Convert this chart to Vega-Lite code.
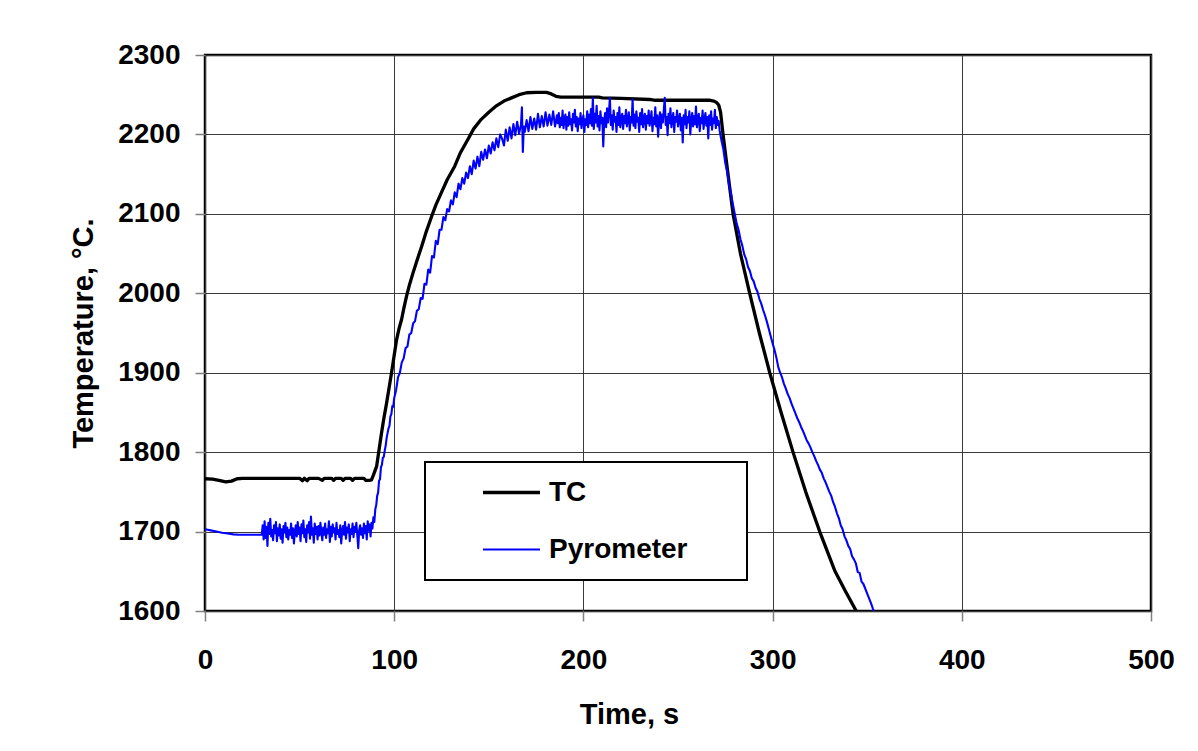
{
"$schema": "https://vega.github.io/schema/vega-lite/v6.json",
"width": 946, "height": 556,
"autosize": {"type": "none"},
"padding": {"left": 205, "top": 55, "right": 47, "bottom": 140},
"background": "white",
"config": {
  "font": "Liberation Sans",
  "view": {"stroke": "#000000", "strokeWidth": 2.5},
  "axis": {"grid": true, "gridColor": "#3a3a3a", "gridWidth": 1, "domain": false, "tickColor": "#808080", "tickSize": 10, "tickWidth": 1.5, "labelFont": "Liberation Sans", "labelFontSize": 28, "labelFontWeight": "bold", "labelColor": "#000000", "labelFlush": false, "labelOverlap": false, "titleFont": "Liberation Sans", "titleFontSize": 29, "titleFontWeight": "bold", "titleColor": "#000000"},
  "legend": {"strokeWidth": 2}
},
"layer": [
{
 "data": {"values": [
{"t":0,"v":1766.5,"s":"TC"},{"t":4,"v":1766,"s":"TC"},{"t":8,"v":1764,"s":"TC"},{"t":11,"v":1762.5,"s":"TC"},{"t":14,"v":1763.5,"s":"TC"},{"t":17,"v":1766.5,"s":"TC"},{"t":20,"v":1767,"s":"TC"},{"t":30,"v":1767,"s":"TC"},{"t":40,"v":1767,"s":"TC"},{"t":50,"v":1767,"s":"TC"},{"t":51.5,"v":1764,"s":"TC"},{"t":52.5,"v":1767,"s":"TC"},{"t":54,"v":1764,"s":"TC"},{"t":55,"v":1767,"s":"TC"},{"t":60,"v":1767,"s":"TC"},{"t":62,"v":1764.5,"s":"TC"},{"t":63,"v":1767,"s":"TC"},{"t":67,"v":1767,"s":"TC"},{"t":68,"v":1764.5,"s":"TC"},{"t":69,"v":1767,"s":"TC"},{"t":72,"v":1767,"s":"TC"},{"t":73,"v":1764.5,"s":"TC"},{"t":74,"v":1767,"s":"TC"},{"t":77,"v":1767,"s":"TC"},{"t":78,"v":1764.5,"s":"TC"},{"t":79,"v":1767,"s":"TC"},{"t":84,"v":1767,"s":"TC"},{"t":85,"v":1764.5,"s":"TC"},{"t":87,"v":1764.5,"s":"TC"},{"t":88,"v":1765,"s":"TC"},{"t":89,"v":1771,"s":"TC"},{"t":90.7,"v":1782,"s":"TC"},{"t":92,"v":1803,"s":"TC"},{"t":93.3,"v":1824,"s":"TC"},{"t":94.5,"v":1842,"s":"TC"},{"t":96,"v":1862,"s":"TC"},{"t":97.3,"v":1881,"s":"TC"},{"t":98.6,"v":1900,"s":"TC"},{"t":100,"v":1922,"s":"TC"},{"t":101.3,"v":1942,"s":"TC"},{"t":102.5,"v":1955,"s":"TC"},{"t":103.9,"v":1967,"s":"TC"},{"t":105,"v":1980,"s":"TC"},{"t":106.5,"v":1996,"s":"TC"},{"t":108,"v":2010,"s":"TC"},{"t":110,"v":2026,"s":"TC"},{"t":112,"v":2041,"s":"TC"},{"t":114.5,"v":2059,"s":"TC"},{"t":117,"v":2078,"s":"TC"},{"t":119.8,"v":2097,"s":"TC"},{"t":122,"v":2111,"s":"TC"},{"t":125,"v":2127,"s":"TC"},{"t":128,"v":2143,"s":"TC"},{"t":132,"v":2160,"s":"TC"},{"t":135,"v":2177,"s":"TC"},{"t":139,"v":2194,"s":"TC"},{"t":142,"v":2207,"s":"TC"},{"t":146,"v":2219,"s":"TC"},{"t":150,"v":2228,"s":"TC"},{"t":154,"v":2236,"s":"TC"},{"t":158,"v":2242,"s":"TC"},{"t":162,"v":2246,"s":"TC"},{"t":166,"v":2250,"s":"TC"},{"t":170,"v":2252.5,"s":"TC"},{"t":175,"v":2253,"s":"TC"},{"t":180.5,"v":2253,"s":"TC"},{"t":183,"v":2251,"s":"TC"},{"t":185.5,"v":2248,"s":"TC"},{"t":188,"v":2247,"s":"TC"},{"t":208,"v":2247,"s":"TC"},{"t":210,"v":2246,"s":"TC"},{"t":220,"v":2245.5,"s":"TC"},{"t":235,"v":2244,"s":"TC"},{"t":238,"v":2243,"s":"TC"},{"t":267,"v":2243,"s":"TC"},{"t":269,"v":2242,"s":"TC"},{"t":270.5,"v":2240,"s":"TC"},{"t":271.5,"v":2237,"s":"TC"},{"t":272.5,"v":2228,"s":"TC"},{"t":273.8,"v":2200,"s":"TC"},{"t":276,"v":2158,"s":"TC"},{"t":279.1,"v":2100,"s":"TC"},{"t":283,"v":2050,"s":"TC"},{"t":287.9,"v":2000,"s":"TC"},{"t":293,"v":1950,"s":"TC"},{"t":298.5,"v":1900,"s":"TC"},{"t":304.5,"v":1850,"s":"TC"},{"t":310.8,"v":1800,"s":"TC"},{"t":317.5,"v":1750,"s":"TC"},{"t":324.9,"v":1700,"s":"TC"},{"t":333,"v":1650,"s":"TC"},{"t":338.5,"v":1625,"s":"TC"},{"t":344.2,"v":1600,"s":"TC"}
 ]},
 "mark": {"type": "line", "clip": true, "strokeJoin": "round"},
 "encoding": {
  "x": {"field": "t", "type": "quantitative", "scale": {"domain": [0, 500], "nice": false, "zero": false}, "axis": {"values": [0,100,200,300,400,500], "format": "d", "title": "Time, s", "labelPadding": 25, "titleX": 424, "titleY": 112, "titleBaseline": "alphabetic", "titleAlign": "center", "titleAnchor": null}},
  "y": {"field": "v", "type": "quantitative", "scale": {"domain": [1600, 2300], "nice": false, "zero": false}, "axis": {"values": [1600,1700,1800,1900,2000,2100,2200,2300], "format": "d", "title": "Temperature, °C.", "labelPadding": 15, "titleX": -113, "titleY": 278, "titleBaseline": "alphabetic", "titleAlign": "center", "titleAngle": -90}},
  "color": {"field": "s", "type": "nominal", "scale": {"domain": ["TC", "Pyrometer"], "range": ["#000000", "#0000ff"]}, "legend": {"orient": "none", "legendX": 220, "legendY": 407, "title": "\u00a0", "titleOrient": "right", "titleAngle": 0, "titlePadding": 57, "titleFontSize": 28, "direction": "vertical", "symbolType": "stroke", "symbolSize": 3249, "symbolOffset": 54, "labelOffset": 7, "labelLimit": 500, "clipHeight": 57, "labelFont": "Liberation Sans", "labelFontSize": 28, "labelFontWeight": "bold", "labelColor": "#000000", "padding": 2, "rowPadding": 0, "strokeColor": "#000000", "fillColor": "#ffffff"}},
  "strokeWidth": {"field": "s", "type": "nominal", "scale": {"domain": ["TC", "Pyrometer"], "range": [3.3, 2.1]}, "legend": {"orient": "none", "legendX": 220, "legendY": 407, "title": "\u00a0", "titleOrient": "right", "titleAngle": 0, "titlePadding": 57, "titleFontSize": 28, "direction": "vertical", "symbolType": "stroke", "symbolSize": 3249, "symbolOffset": 54, "labelOffset": 7, "labelLimit": 500, "clipHeight": 57, "labelFont": "Liberation Sans", "labelFontSize": 28, "labelFontWeight": "bold", "labelColor": "#000000", "padding": 2, "rowPadding": 0, "strokeColor": "#000000", "fillColor": "#ffffff"}}
 }
},
{
 "data": {"values": [
{"t":0,"v":1703,"s":"Pyrometer"},{"t":3,"v":1701.5,"s":"Pyrometer"},{"t":6,"v":1700,"s":"Pyrometer"},{"t":9,"v":1698.5,"s":"Pyrometer"},{"t":12,"v":1697.5,"s":"Pyrometer"},{"t":15,"v":1696.5,"s":"Pyrometer"},{"t":18,"v":1696,"s":"Pyrometer"},{"t":24,"v":1696,"s":"Pyrometer"},{"t":30,"v":1696,"s":"Pyrometer"},
{"t":30.5,"v":1708,"s":"Pyrometer"},{"t":31,"v":1690,"s":"Pyrometer"},{"t":31.5,"v":1713,"s":"Pyrometer"},{"t":32,"v":1692,"s":"Pyrometer"},{"t":32.5,"v":1706,"s":"Pyrometer"},{"t":33,"v":1682,"s":"Pyrometer"},{"t":33.5,"v":1711,"s":"Pyrometer"},{"t":34,"v":1697,"s":"Pyrometer"},{"t":34.5,"v":1716,"s":"Pyrometer"},{"t":35,"v":1694,"s":"Pyrometer"},{"t":35.5,"v":1702,"s":"Pyrometer"},{"t":36,"v":1689,"s":"Pyrometer"},{"t":36.5,"v":1708,"s":"Pyrometer"},{"t":37,"v":1698,"s":"Pyrometer"},{"t":37.5,"v":1712,"s":"Pyrometer"},{"t":38,"v":1688,"s":"Pyrometer"},{"t":38.5,"v":1704,"s":"Pyrometer"},{"t":39,"v":1695,"s":"Pyrometer"},{"t":39.5,"v":1709,"s":"Pyrometer"},{"t":40,"v":1691,"s":"Pyrometer"},{"t":40.5,"v":1703,"s":"Pyrometer"},{"t":41,"v":1686,"s":"Pyrometer"},{"t":41.5,"v":1707,"s":"Pyrometer"},{"t":42,"v":1699,"s":"Pyrometer"},{"t":42.5,"v":1711,"s":"Pyrometer"},{"t":43,"v":1693,"s":"Pyrometer"},{"t":43.5,"v":1705,"s":"Pyrometer"},{"t":44,"v":1690,"s":"Pyrometer"},{"t":44.5,"v":1702,"s":"Pyrometer"},{"t":45,"v":1696,"s":"Pyrometer"},{"t":45.5,"v":1710,"s":"Pyrometer"},{"t":46,"v":1692,"s":"Pyrometer"},{"t":46.5,"v":1704,"s":"Pyrometer"},{"t":47,"v":1685,"s":"Pyrometer"},{"t":47.5,"v":1700,"s":"Pyrometer"},{"t":48,"v":1708,"s":"Pyrometer"},{"t":48.5,"v":1694,"s":"Pyrometer"},{"t":49,"v":1712,"s":"Pyrometer"},{"t":49.5,"v":1697,"s":"Pyrometer"},{"t":50,"v":1705,"s":"Pyrometer"},{"t":50.5,"v":1688,"s":"Pyrometer"},{"t":51,"v":1709,"s":"Pyrometer"},{"t":51.5,"v":1698,"s":"Pyrometer"},{"t":52,"v":1714,"s":"Pyrometer"},{"t":52.5,"v":1693,"s":"Pyrometer"},{"t":53,"v":1703,"s":"Pyrometer"},{"t":53.5,"v":1687,"s":"Pyrometer"},{"t":54,"v":1708,"s":"Pyrometer"},{"t":54.5,"v":1699,"s":"Pyrometer"},{"t":55,"v":1712,"s":"Pyrometer"},{"t":55.5,"v":1691,"s":"Pyrometer"},{"t":56,"v":1719,"s":"Pyrometer"},{"t":56.5,"v":1696,"s":"Pyrometer"},{"t":57,"v":1704,"s":"Pyrometer"},{"t":57.5,"v":1686,"s":"Pyrometer"},{"t":58,"v":1710,"s":"Pyrometer"},{"t":58.5,"v":1697,"s":"Pyrometer"},{"t":59,"v":1706,"s":"Pyrometer"},{"t":59.5,"v":1690,"s":"Pyrometer"},{"t":60,"v":1707,"s":"Pyrometer"},{"t":60.5,"v":1695,"s":"Pyrometer"},{"t":61,"v":1711,"s":"Pyrometer"},{"t":61.5,"v":1700,"s":"Pyrometer"},{"t":62,"v":1689,"s":"Pyrometer"},{"t":62.5,"v":1705,"s":"Pyrometer"},{"t":63,"v":1696,"s":"Pyrometer"},{"t":63.5,"v":1710,"s":"Pyrometer"},{"t":64,"v":1692,"s":"Pyrometer"},{"t":64.5,"v":1703,"s":"Pyrometer"},{"t":65,"v":1698,"s":"Pyrometer"},{"t":65.5,"v":1713,"s":"Pyrometer"},{"t":66,"v":1687,"s":"Pyrometer"},{"t":66.5,"v":1706,"s":"Pyrometer"},{"t":67,"v":1694,"s":"Pyrometer"},{"t":67.5,"v":1709,"s":"Pyrometer"},{"t":68,"v":1699,"s":"Pyrometer"},{"t":68.5,"v":1704,"s":"Pyrometer"},{"t":69,"v":1690,"s":"Pyrometer"},{"t":69.5,"v":1711,"s":"Pyrometer"},{"t":70,"v":1697,"s":"Pyrometer"},{"t":70.5,"v":1702,"s":"Pyrometer"},{"t":71,"v":1693,"s":"Pyrometer"},{"t":71.5,"v":1708,"s":"Pyrometer"},{"t":72,"v":1685,"s":"Pyrometer"},{"t":72.5,"v":1701,"s":"Pyrometer"},{"t":73,"v":1707,"s":"Pyrometer"},{"t":73.5,"v":1696,"s":"Pyrometer"},{"t":74,"v":1712,"s":"Pyrometer"},{"t":74.5,"v":1691,"s":"Pyrometer"},{"t":75,"v":1705,"s":"Pyrometer"},{"t":75.5,"v":1699,"s":"Pyrometer"},{"t":76,"v":1709,"s":"Pyrometer"},{"t":76.5,"v":1688,"s":"Pyrometer"},{"t":77,"v":1703,"s":"Pyrometer"},{"t":77.5,"v":1697,"s":"Pyrometer"},{"t":78,"v":1710,"s":"Pyrometer"},{"t":78.5,"v":1693,"s":"Pyrometer"},{"t":79,"v":1706,"s":"Pyrometer"},{"t":79.5,"v":1700,"s":"Pyrometer"},{"t":80,"v":1711,"s":"Pyrometer"},{"t":80.5,"v":1695,"s":"Pyrometer"},{"t":81,"v":1679,"s":"Pyrometer"},{"t":81.5,"v":1702,"s":"Pyrometer"},{"t":82,"v":1708,"s":"Pyrometer"},{"t":82.5,"v":1696,"s":"Pyrometer"},{"t":83,"v":1704,"s":"Pyrometer"},{"t":83.5,"v":1692,"s":"Pyrometer"},{"t":84,"v":1710,"s":"Pyrometer"},{"t":84.5,"v":1698,"s":"Pyrometer"},{"t":85,"v":1707,"s":"Pyrometer"},{"t":85.5,"v":1690,"s":"Pyrometer"},{"t":86,"v":1713,"s":"Pyrometer"},{"t":86.5,"v":1701,"s":"Pyrometer"},{"t":87,"v":1709,"s":"Pyrometer"},{"t":87.5,"v":1694,"s":"Pyrometer"},{"t":88,"v":1711,"s":"Pyrometer"},{"t":88.5,"v":1704,"s":"Pyrometer"},{"t":89,"v":1718,"s":"Pyrometer"},{"t":89.5,"v":1712,"s":"Pyrometer"},{"t":90,"v":1728,"s":"Pyrometer"},{"t":90.5,"v":1733,"s":"Pyrometer"},{"t":91,"v":1745,"s":"Pyrometer"},{"t":91.5,"v":1749,"s":"Pyrometer"},{"t":92,"v":1764,"s":"Pyrometer"},{"t":92.5,"v":1766,"s":"Pyrometer"},{"t":93,"v":1781,"s":"Pyrometer"},{"t":93.5,"v":1784,"s":"Pyrometer"},{"t":94,"v":1793,"s":"Pyrometer"},{"t":94.5,"v":1794,"s":"Pyrometer"},{"t":95,"v":1802,"s":"Pyrometer"},{"t":95.5,"v":1808,"s":"Pyrometer"},{"t":96,"v":1818,"s":"Pyrometer"},{"t":96.5,"v":1824,"s":"Pyrometer"},{"t":97,"v":1830,"s":"Pyrometer"},{"t":97.5,"v":1833,"s":"Pyrometer"},{"t":98,"v":1845,"s":"Pyrometer"},{"t":98.5,"v":1848,"s":"Pyrometer"},{"t":99,"v":1858,"s":"Pyrometer"},{"t":99.5,"v":1857,"s":"Pyrometer"},{"t":100,"v":1868,"s":"Pyrometer"},
{"t":101,"v":1878,"s":"Pyrometer"},{"t":102,"v":1894,"s":"Pyrometer"},{"t":103,"v":1900,"s":"Pyrometer"},{"t":104,"v":1913,"s":"Pyrometer"},{"t":105,"v":1918,"s":"Pyrometer"},{"t":106,"v":1931,"s":"Pyrometer"},{"t":107,"v":1933,"s":"Pyrometer"},{"t":108,"v":1948,"s":"Pyrometer"},{"t":109,"v":1950,"s":"Pyrometer"},{"t":110,"v":1962,"s":"Pyrometer"},{"t":111,"v":1965,"s":"Pyrometer"},{"t":112,"v":1978,"s":"Pyrometer"},{"t":113,"v":1980,"s":"Pyrometer"},{"t":114,"v":1994,"s":"Pyrometer"},{"t":115,"v":1993,"s":"Pyrometer"},{"t":116,"v":2012,"s":"Pyrometer"},{"t":117,"v":2011,"s":"Pyrometer"},{"t":118,"v":2030,"s":"Pyrometer"},{"t":119,"v":2026,"s":"Pyrometer"},{"t":120,"v":2047,"s":"Pyrometer"},{"t":121,"v":2045,"s":"Pyrometer"},{"t":122,"v":2066,"s":"Pyrometer"},{"t":123,"v":2062,"s":"Pyrometer"},{"t":124,"v":2080,"s":"Pyrometer"},{"t":125,"v":2080,"s":"Pyrometer"},{"t":126,"v":2096,"s":"Pyrometer"},{"t":127,"v":2092,"s":"Pyrometer"},{"t":128,"v":2106,"s":"Pyrometer"},{"t":129,"v":2103,"s":"Pyrometer"},{"t":130,"v":2117,"s":"Pyrometer"},{"t":131,"v":2112,"s":"Pyrometer"},{"t":132,"v":2127,"s":"Pyrometer"},{"t":133,"v":2121,"s":"Pyrometer"},{"t":134,"v":2138,"s":"Pyrometer"},{"t":135,"v":2131,"s":"Pyrometer"},{"t":136,"v":2145,"s":"Pyrometer"},{"t":137,"v":2138,"s":"Pyrometer"},{"t":138,"v":2152,"s":"Pyrometer"},{"t":139,"v":2145,"s":"Pyrometer"},{"t":140,"v":2160,"s":"Pyrometer"},{"t":141,"v":2150,"s":"Pyrometer"},{"t":142,"v":2167,"s":"Pyrometer"},{"t":143,"v":2157,"s":"Pyrometer"},{"t":144,"v":2172,"s":"Pyrometer"},{"t":145,"v":2160,"s":"Pyrometer"},{"t":146,"v":2178,"s":"Pyrometer"},{"t":147,"v":2168,"s":"Pyrometer"},{"t":148,"v":2181,"s":"Pyrometer"},{"t":149,"v":2170,"s":"Pyrometer"},{"t":150,"v":2186,"s":"Pyrometer"},{"t":151,"v":2176,"s":"Pyrometer"},{"t":152,"v":2190,"s":"Pyrometer"},{"t":153,"v":2180,"s":"Pyrometer"},{"t":154,"v":2195,"s":"Pyrometer"},{"t":155,"v":2184,"s":"Pyrometer"},{"t":156,"v":2200,"s":"Pyrometer"},{"t":157,"v":2195,"s":"Pyrometer"},{"t":158,"v":2186,"s":"Pyrometer"},{"t":159,"v":2206,"s":"Pyrometer"},{"t":160,"v":2192,"s":"Pyrometer"},{"t":161,"v":2209,"s":"Pyrometer"},{"t":162,"v":2195,"s":"Pyrometer"},{"t":163,"v":2213,"s":"Pyrometer"},{"t":164,"v":2199,"s":"Pyrometer"},{"t":165,"v":2216,"s":"Pyrometer"},{"t":166,"v":2201,"s":"Pyrometer"},{"t":167,"v":2212,"s":"Pyrometer"},{"t":167.5,"v":2234,"s":"Pyrometer"},{"t":168,"v":2178,"s":"Pyrometer"},{"t":168.5,"v":2210,"s":"Pyrometer"},{"t":169,"v":2203,"s":"Pyrometer"},{"t":170,"v":2218,"s":"Pyrometer"},{"t":171,"v":2204,"s":"Pyrometer"},{"t":172,"v":2222,"s":"Pyrometer"},{"t":173,"v":2207,"s":"Pyrometer"},{"t":174,"v":2220,"s":"Pyrometer"},{"t":175,"v":2206,"s":"Pyrometer"},{"t":176,"v":2226,"s":"Pyrometer"},{"t":177,"v":2209,"s":"Pyrometer"},{"t":178,"v":2223,"s":"Pyrometer"},{"t":179,"v":2210,"s":"Pyrometer"},{"t":180,"v":2228,"s":"Pyrometer"},{"t":181,"v":2211,"s":"Pyrometer"},{"t":182,"v":2225,"s":"Pyrometer"},{"t":183,"v":2212,"s":"Pyrometer"},{"t":184,"v":2229,"s":"Pyrometer"},{"t":185,"v":2210,"s":"Pyrometer"},{"t":186,"v":2224,"s":"Pyrometer"},
{"t":186.5,"v":2214,"s":"Pyrometer"},{"t":187,"v":2227,"s":"Pyrometer"},{"t":187.5,"v":2209,"s":"Pyrometer"},{"t":188,"v":2221,"s":"Pyrometer"},{"t":188.5,"v":2212,"s":"Pyrometer"},{"t":189,"v":2230,"s":"Pyrometer"},{"t":189.5,"v":2208,"s":"Pyrometer"},{"t":190,"v":2219,"s":"Pyrometer"},{"t":190.5,"v":2225,"s":"Pyrometer"},{"t":191,"v":2206,"s":"Pyrometer"},{"t":191.5,"v":2222,"s":"Pyrometer"},{"t":192,"v":2211,"s":"Pyrometer"},{"t":192.5,"v":2228,"s":"Pyrometer"},{"t":193,"v":2213,"s":"Pyrometer"},{"t":193.5,"v":2219,"s":"Pyrometer"},{"t":194,"v":2205,"s":"Pyrometer"},{"t":194.5,"v":2226,"s":"Pyrometer"},{"t":195,"v":2215,"s":"Pyrometer"},{"t":195.5,"v":2231,"s":"Pyrometer"},{"t":196,"v":2210,"s":"Pyrometer"},{"t":196.5,"v":2222,"s":"Pyrometer"},{"t":197,"v":2204,"s":"Pyrometer"},{"t":197.5,"v":2220,"s":"Pyrometer"},{"t":198,"v":2213,"s":"Pyrometer"},{"t":198.5,"v":2227,"s":"Pyrometer"},{"t":199,"v":2208,"s":"Pyrometer"},{"t":199.5,"v":2218,"s":"Pyrometer"},{"t":200,"v":2224,"s":"Pyrometer"},{"t":200.5,"v":2203,"s":"Pyrometer"},{"t":201,"v":2219,"s":"Pyrometer"},{"t":201.5,"v":2212,"s":"Pyrometer"},{"t":202,"v":2229,"s":"Pyrometer"},{"t":202.5,"v":2209,"s":"Pyrometer"},{"t":203,"v":2225,"s":"Pyrometer"},{"t":203.5,"v":2214,"s":"Pyrometer"},{"t":204,"v":2232,"s":"Pyrometer"},{"t":204.5,"v":2211,"s":"Pyrometer"},{"t":205,"v":2246,"s":"Pyrometer"},{"t":205.5,"v":2207,"s":"Pyrometer"},{"t":206,"v":2226,"s":"Pyrometer"},{"t":206.5,"v":2215,"s":"Pyrometer"},{"t":207,"v":2236,"s":"Pyrometer"},{"t":207.5,"v":2210,"s":"Pyrometer"},{"t":208,"v":2223,"s":"Pyrometer"},{"t":208.5,"v":2205,"s":"Pyrometer"},{"t":209,"v":2229,"s":"Pyrometer"},{"t":209.5,"v":2214,"s":"Pyrometer"},{"t":210,"v":2221,"s":"Pyrometer"},{"t":210.5,"v":2185,"s":"Pyrometer"},{"t":211,"v":2218,"s":"Pyrometer"},{"t":211.5,"v":2227,"s":"Pyrometer"},{"t":212,"v":2209,"s":"Pyrometer"},{"t":212.5,"v":2233,"s":"Pyrometer"},{"t":213,"v":2215,"s":"Pyrometer"},{"t":213.5,"v":2228,"s":"Pyrometer"},{"t":214,"v":2246,"s":"Pyrometer"},{"t":214.5,"v":2212,"s":"Pyrometer"},{"t":215,"v":2224,"s":"Pyrometer"},{"t":215.5,"v":2206,"s":"Pyrometer"},{"t":216,"v":2230,"s":"Pyrometer"},{"t":216.5,"v":2216,"s":"Pyrometer"},{"t":217,"v":2222,"s":"Pyrometer"},{"t":217.5,"v":2203,"s":"Pyrometer"},{"t":218,"v":2227,"s":"Pyrometer"},{"t":218.5,"v":2212,"s":"Pyrometer"},{"t":219,"v":2234,"s":"Pyrometer"},{"t":219.5,"v":2209,"s":"Pyrometer"},{"t":220,"v":2220,"s":"Pyrometer"},{"t":220.5,"v":2226,"s":"Pyrometer"},{"t":221,"v":2207,"s":"Pyrometer"},{"t":221.5,"v":2223,"s":"Pyrometer"},{"t":222,"v":2214,"s":"Pyrometer"},{"t":222.5,"v":2231,"s":"Pyrometer"},{"t":223,"v":2210,"s":"Pyrometer"},{"t":223.5,"v":2219,"s":"Pyrometer"},{"t":224,"v":2228,"s":"Pyrometer"},{"t":224.5,"v":2205,"s":"Pyrometer"},{"t":225,"v":2222,"s":"Pyrometer"},{"t":225.5,"v":2215,"s":"Pyrometer"},{"t":226,"v":2244,"s":"Pyrometer"},{"t":226.5,"v":2211,"s":"Pyrometer"},{"t":227,"v":2225,"s":"Pyrometer"},{"t":227.5,"v":2208,"s":"Pyrometer"},{"t":228,"v":2229,"s":"Pyrometer"},{"t":228.5,"v":2216,"s":"Pyrometer"},{"t":229,"v":2221,"s":"Pyrometer"},{"t":229.5,"v":2203,"s":"Pyrometer"},{"t":230,"v":2227,"s":"Pyrometer"},{"t":230.5,"v":2213,"s":"Pyrometer"},{"t":231,"v":2232,"s":"Pyrometer"},{"t":231.5,"v":2209,"s":"Pyrometer"},{"t":232,"v":2220,"s":"Pyrometer"},{"t":232.5,"v":2226,"s":"Pyrometer"},{"t":233,"v":2206,"s":"Pyrometer"},{"t":233.5,"v":2223,"s":"Pyrometer"},{"t":234,"v":2214,"s":"Pyrometer"},{"t":234.5,"v":2230,"s":"Pyrometer"},{"t":235,"v":2211,"s":"Pyrometer"},{"t":235.5,"v":2218,"s":"Pyrometer"},{"t":236,"v":2229,"s":"Pyrometer"},{"t":236.5,"v":2204,"s":"Pyrometer"},{"t":237,"v":2221,"s":"Pyrometer"},{"t":237.5,"v":2213,"s":"Pyrometer"},{"t":238,"v":2234,"s":"Pyrometer"},{"t":238.5,"v":2210,"s":"Pyrometer"},{"t":239,"v":2224,"s":"Pyrometer"},{"t":239.5,"v":2197,"s":"Pyrometer"},{"t":240,"v":2219,"s":"Pyrometer"},{"t":240.5,"v":2228,"s":"Pyrometer"},{"t":241,"v":2208,"s":"Pyrometer"},{"t":241.5,"v":2225,"s":"Pyrometer"},{"t":242,"v":2215,"s":"Pyrometer"},{"t":242.5,"v":2231,"s":"Pyrometer"},{"t":243,"v":2246,"s":"Pyrometer"},{"t":243.5,"v":2212,"s":"Pyrometer"},{"t":244,"v":2222,"s":"Pyrometer"},{"t":244.5,"v":2199,"s":"Pyrometer"},{"t":245,"v":2226,"s":"Pyrometer"},{"t":245.5,"v":2214,"s":"Pyrometer"},{"t":246,"v":2233,"s":"Pyrometer"},{"t":246.5,"v":2209,"s":"Pyrometer"},{"t":247,"v":2220,"s":"Pyrometer"},{"t":247.5,"v":2227,"s":"Pyrometer"},{"t":248,"v":2203,"s":"Pyrometer"},{"t":248.5,"v":2222,"s":"Pyrometer"},{"t":249,"v":2216,"s":"Pyrometer"},{"t":249.5,"v":2230,"s":"Pyrometer"},{"t":250,"v":2210,"s":"Pyrometer"},{"t":250.5,"v":2219,"s":"Pyrometer"},{"t":251,"v":2226,"s":"Pyrometer"},{"t":251.5,"v":2205,"s":"Pyrometer"},{"t":252,"v":2221,"s":"Pyrometer"},{"t":252.5,"v":2190,"s":"Pyrometer"},{"t":253,"v":2224,"s":"Pyrometer"},{"t":253.5,"v":2213,"s":"Pyrometer"},{"t":254,"v":2231,"s":"Pyrometer"},{"t":254.5,"v":2208,"s":"Pyrometer"},{"t":255,"v":2222,"s":"Pyrometer"},{"t":255.5,"v":2215,"s":"Pyrometer"},{"t":256,"v":2229,"s":"Pyrometer"},{"t":256.5,"v":2200,"s":"Pyrometer"},{"t":257,"v":2218,"s":"Pyrometer"},{"t":257.5,"v":2227,"s":"Pyrometer"},{"t":258,"v":2210,"s":"Pyrometer"},{"t":258.5,"v":2223,"s":"Pyrometer"},{"t":259,"v":2213,"s":"Pyrometer"},{"t":259.5,"v":2235,"s":"Pyrometer"},{"t":260,"v":2209,"s":"Pyrometer"},{"t":260.5,"v":2220,"s":"Pyrometer"},{"t":261,"v":2226,"s":"Pyrometer"},{"t":261.5,"v":2204,"s":"Pyrometer"},{"t":262,"v":2221,"s":"Pyrometer"},{"t":262.5,"v":2214,"s":"Pyrometer"},{"t":263,"v":2230,"s":"Pyrometer"},{"t":263.5,"v":2207,"s":"Pyrometer"},{"t":264,"v":2219,"s":"Pyrometer"},{"t":264.5,"v":2227,"s":"Pyrometer"},{"t":265,"v":2211,"s":"Pyrometer"},{"t":265.5,"v":2222,"s":"Pyrometer"},{"t":266,"v":2195,"s":"Pyrometer"},{"t":266.5,"v":2224,"s":"Pyrometer"},{"t":267,"v":2212,"s":"Pyrometer"},{"t":267.5,"v":2229,"s":"Pyrometer"},{"t":268,"v":2206,"s":"Pyrometer"},{"t":268.5,"v":2220,"s":"Pyrometer"},{"t":269,"v":2214,"s":"Pyrometer"},{"t":269.5,"v":2231,"s":"Pyrometer"},{"t":270,"v":2208,"s":"Pyrometer"},{"t":270.5,"v":2222,"s":"Pyrometer"},{"t":271,"v":2212,"s":"Pyrometer"},{"t":271.5,"v":2217,"s":"Pyrometer"},{"t":272,"v":2205,"s":"Pyrometer"},
{"t":273,"v":2192,"s":"Pyrometer"},{"t":274,"v":2181,"s":"Pyrometer"},{"t":275,"v":2164,"s":"Pyrometer"},{"t":276,"v":2153,"s":"Pyrometer"},{"t":277,"v":2136,"s":"Pyrometer"},{"t":278,"v":2126,"s":"Pyrometer"},{"t":279,"v":2112,"s":"Pyrometer"},{"t":280,"v":2100,"s":"Pyrometer"},{"t":281,"v":2088,"s":"Pyrometer"},{"t":282,"v":2080,"s":"Pyrometer"},{"t":283,"v":2068,"s":"Pyrometer"},{"t":284,"v":2060,"s":"Pyrometer"},{"t":285,"v":2049,"s":"Pyrometer"},{"t":286,"v":2043,"s":"Pyrometer"},{"t":287,"v":2033,"s":"Pyrometer"},{"t":288,"v":2028,"s":"Pyrometer"},{"t":289,"v":2019,"s":"Pyrometer"},{"t":290,"v":2015,"s":"Pyrometer"},{"t":291,"v":2007,"s":"Pyrometer"},{"t":292,"v":2002,"s":"Pyrometer"},{"t":293,"v":1993,"s":"Pyrometer"},{"t":294,"v":1987,"s":"Pyrometer"},{"t":295,"v":1979,"s":"Pyrometer"},{"t":296,"v":1972,"s":"Pyrometer"},{"t":297,"v":1964,"s":"Pyrometer"},{"t":298,"v":1955,"s":"Pyrometer"},{"t":299,"v":1946,"s":"Pyrometer"},{"t":300,"v":1937,"s":"Pyrometer"},{"t":301,"v":1929,"s":"Pyrometer"},{"t":302,"v":1919,"s":"Pyrometer"},{"t":303,"v":1907,"s":"Pyrometer"},{"t":304,"v":1900,"s":"Pyrometer"},{"t":305,"v":1894,"s":"Pyrometer"},{"t":306,"v":1886,"s":"Pyrometer"},{"t":307,"v":1880,"s":"Pyrometer"},{"t":308,"v":1873,"s":"Pyrometer"},{"t":309,"v":1868,"s":"Pyrometer"},{"t":310,"v":1861,"s":"Pyrometer"},{"t":311,"v":1855,"s":"Pyrometer"},{"t":312,"v":1849,"s":"Pyrometer"},{"t":313,"v":1843,"s":"Pyrometer"},{"t":314,"v":1838,"s":"Pyrometer"},{"t":315,"v":1832,"s":"Pyrometer"},{"t":316,"v":1827,"s":"Pyrometer"},{"t":317,"v":1821,"s":"Pyrometer"},{"t":318,"v":1815,"s":"Pyrometer"},{"t":319,"v":1811,"s":"Pyrometer"},{"t":320,"v":1806,"s":"Pyrometer"},{"t":321,"v":1800,"s":"Pyrometer"},{"t":322,"v":1795,"s":"Pyrometer"},{"t":323,"v":1789,"s":"Pyrometer"},{"t":324,"v":1784,"s":"Pyrometer"},{"t":325,"v":1778,"s":"Pyrometer"},{"t":326,"v":1774,"s":"Pyrometer"},{"t":327,"v":1767,"s":"Pyrometer"},{"t":328,"v":1762,"s":"Pyrometer"},{"t":329,"v":1756,"s":"Pyrometer"},{"t":330,"v":1750,"s":"Pyrometer"},{"t":331,"v":1745,"s":"Pyrometer"},{"t":332,"v":1737,"s":"Pyrometer"},{"t":333,"v":1731,"s":"Pyrometer"},{"t":334,"v":1723,"s":"Pyrometer"},{"t":335,"v":1717,"s":"Pyrometer"},{"t":336,"v":1708,"s":"Pyrometer"},{"t":337,"v":1703,"s":"Pyrometer"},{"t":338,"v":1694,"s":"Pyrometer"},{"t":339,"v":1689,"s":"Pyrometer"},{"t":340,"v":1682,"s":"Pyrometer"},{"t":341,"v":1678,"s":"Pyrometer"},{"t":342,"v":1669,"s":"Pyrometer"},{"t":343,"v":1665,"s":"Pyrometer"},{"t":344,"v":1660,"s":"Pyrometer"},{"t":345,"v":1649,"s":"Pyrometer"},{"t":346,"v":1648,"s":"Pyrometer"},{"t":347,"v":1637,"s":"Pyrometer"},{"t":348,"v":1634,"s":"Pyrometer"},{"t":349,"v":1628,"s":"Pyrometer"},{"t":350,"v":1622,"s":"Pyrometer"},{"t":351,"v":1616,"s":"Pyrometer"},{"t":352,"v":1610,"s":"Pyrometer"},{"t":353,"v":1603,"s":"Pyrometer"},{"t":353.5,"v":1600,"s":"Pyrometer"}
 ]},
 "mark": {"type": "line", "clip": true, "strokeJoin": "round"},
 "encoding": {
  "x": {"field": "t", "type": "quantitative"},
  "y": {"field": "v", "type": "quantitative"},
  "color": {"field": "s", "type": "nominal"},
  "strokeWidth": {"field": "s", "type": "nominal"}
 }
}
]
}
